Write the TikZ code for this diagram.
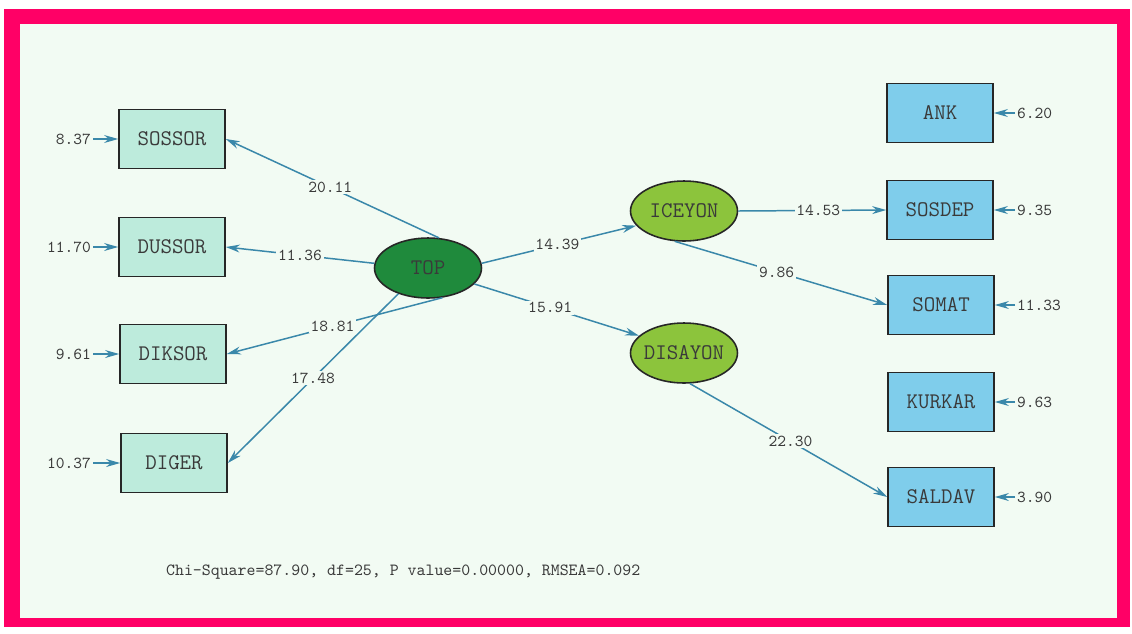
\documentclass[tikz,border=0pt]{standalone}
\usepackage{tikz}
\usetikzlibrary{shapes, arrows, positioning, arrows.meta}

\definecolor{framepink}{HTML}{FF0066}
\definecolor{paper}{HTML}{F2FBF3}
\definecolor{obsleft}{HTML}{BDEBDC}
\definecolor{obsright}{HTML}{7FCDEB}
\definecolor{latdark}{HTML}{1F8A3C}
\definecolor{latlight}{HTML}{8CC43C}
\definecolor{path}{HTML}{3A88AA}
\definecolor{ink}{HTML}{3A3A3A}
\newcommand{\lname}[1]{\makebox[1cm]{#1}}

\tikzset{
    obs/.style={draw=black!85, line width=0.9pt, minimum width=2.12cm, minimum height=1.18cm, text=ink, font=\ttfamily\fontsize{12.7}{14}\selectfont},
    lat/.style={ellipse, draw=black!85, line width=0.9pt, inner sep=0pt, minimum width=2.14cm, minimum height=1.2cm, text=ink, font=\ttfamily\fontsize{12.7}{14}\selectfont},
    err/.style={text=ink, font=\ttfamily\fontsize{9.5}{11}\selectfont, inner sep=1pt},
    coef/.style={fill=paper, text=ink, font=\ttfamily\fontsize{9.5}{11}\selectfont, inner sep=1pt},
    arr/.style={draw=path, line width=0.85pt, -{Stealth[length=8pt, width=4.5pt]}}
}

\begin{document}
\begin{tikzpicture}[x=0.02cm, y=-0.02cm]
        % Frame
        \useasboundingbox (0,0) rectangle (1132,633);
        \fill[white] (0,0) rectangle (1132,633);
        \fill[framepink] (4,9) rectangle (1130,627);
        \fill[paper] (20,24) rectangle (1117,618);

        % Left side
        \node[obs, fill=obsleft] (SOSSOR) at (172,139) {SOSSOR};
        \node[obs, fill=obsleft] (DUSSOR) at (172,247) {DUSSOR};
        \node[obs, fill=obsleft] (DIKSOR) at (173,354) {DIKSOR};
        \node[obs, fill=obsleft] (DIGER) at (174,463) {DIGER};

        \node[err, anchor=east] (eSOSSOR) at (93,139) {8.37};
        \node[err, anchor=east] (eDUSSOR) at (93,247) {11.70};
        \node[err, anchor=east] (eDIKSOR) at (93,354) {9.61};
        \node[err, anchor=east] (eDIGER) at (93,463) {10.37};

        % Latent variables
        \node[lat, fill=latdark] (TOP) at (428,268) {\lname{TOP}};
        \node[lat, fill=latlight] (ICEYON) at (684,211) {\lname{ICEYON}};
        \node[lat, fill=latlight] (DISAYON) at (684,353) {\lname{DISAYON}};

        % Right side
        \node[obs, fill=obsright] (ANK) at (940,113) {ANK};
        \node[obs, fill=obsright] (SOSDEP) at (940,210) {SOSDEP};
        \node[obs, fill=obsright] (SOMAT) at (941,305) {SOMAT};
        \node[obs, fill=obsright] (KURKAR) at (941,402) {KURKAR};
        \node[obs, fill=obsright] (SALDAV) at (941,497) {SALDAV};

        \node[err, anchor=west] (eANK) at (1015,113) {6.20};
        \node[err, anchor=west] (eSOSDEP) at (1015,210) {9.35};
        \node[err, anchor=west] (eSOMAT) at (1015,305) {11.33};
        \node[err, anchor=west] (eKURKAR) at (1015,402) {9.63};
        \node[err, anchor=west] (eSALDAV) at (1015,497) {3.90};

        % Error arrows
        \draw[arr] (eSOSSOR) -- (SOSSOR);
        \draw[arr] (eDUSSOR) -- (DUSSOR);
        \draw[arr] (eDIKSOR) -- (DIKSOR);
        \draw[arr] (eDIGER) -- (DIGER);
        \draw[arr] (eANK) -- (ANK);
        \draw[arr] (eSOSDEP) -- (SOSDEP);
        \draw[arr] (eSOMAT) -- (SOMAT);
        \draw[arr] (eKURKAR) -- (KURKAR);
        \draw[arr] (eSALDAV) -- (SALDAV);

        % Paths
        \draw[arr] (TOP.70) -- node[coef, pos=0.51] {20.11} (SOSSOR.east);
        \draw[arr] (TOP.175) -- node[coef, pos=0.5] {11.36} (DUSSOR.east);
        \draw[arr] (TOP.-64) -- node[coef, pos=0.51] {18.81} (DIKSOR.east);
        \draw[arr] (TOP.-139) -- node[coef, pos=0.5] {17.48} (DIGER.east);
        \draw[arr] (TOP.5) -- node[coef, pos=0.49] {14.39} (ICEYON.197);
        \draw[arr] (TOP.-19) -- node[coef, pos=0.46] {15.91} (DISAYON.159);
        \draw[arr] (ICEYON.east) -- node[coef, pos=0.54] {14.53} (SOSDEP.west);
        \draw[arr] (ICEYON.-107) -- node[coef, pos=0.48] {9.86} (SOMAT.west);
        \draw[arr] (DISAYON.-79) -- node[coef, pos=0.51] {22.30} (SALDAV.west);

        % Fit line
        \node[err, anchor=west, font=\ttfamily\fontsize{9.7}{11}\selectfont] (fit) at (164,572) {Chi-Square=87.90, df=25, P value=0.00000, RMSEA=0.092};
    \end{tikzpicture}
\end{document}
